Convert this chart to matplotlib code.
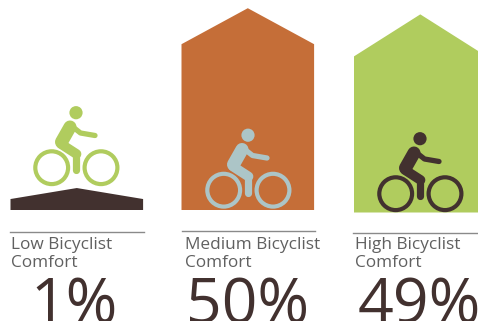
import matplotlib
matplotlib.use("Agg")
import matplotlib.pyplot as plt
from matplotlib.patches import Polygon, Circle

# Share of cyclists at each comfort level
labels = ["Low Bicyclist\nComfort", "Medium Bicyclist\nComfort", "High Bicyclist\nComfort"]
shares = [1, 50, 49]
share_text = ["1%", "50%", "49%"]

BROWN = "#42312F"
ORANGE = "#C56E38"
GREEN = "#B0CC5E"
PALE = "#ACC5C7"
GREY = "#606060"

house_colors = [BROWN, ORANGE, GREEN]
rider_colors = [GREEN, PALE, BROWN]
house_left = [10.5, 181.5, 354]
house_base = [210, 210, 212.5]
roof_rise = [11, 36, 42]
rider_dx = [0, 172, 344]
rider_dy = [0, 22.5, 26]
rule_y = [232, 231, 233]
rule_x = [(10, 144), (182, 315), (353, 478)]
label_x = [11, 185, 355]
label_y = [254, 254, 254]
pct_x = [30, 186, 358]

HALF_WIDTH = 66.3


def house_height(share):
    # Peak height in pixels for a given share
    return 18.3 + 3.67 * share


def draw_rider(ax, dx, dy, color):
    def px(x, y):
        return (x + dx, y + dy)

    ax.add_patch(Circle(px(76, 112.7), 6.6, fc=color, ec="none"))
    for cx in (51.7, 101):
        ax.add_patch(Circle(px(cx, 167.7), 16.4, fc="none", ec=color, lw=3.0))
    limbs = [
        ([(70, 127), (61.5, 142)], 9.4),
        ([(61, 144), (76.5, 154)], 7.0),
        ([(76.5, 154), (76.5, 170)], 5.2),
        ([(71, 125.5), (80.5, 133), (95, 135.5)], 3.8),
    ]
    for pts, lw in limbs:
        xs, ys = zip(*[px(*p) for p in pts])
        ax.plot(xs, ys, color=color, lw=lw, solid_capstyle="round",
                solid_joinstyle="round")


fig = plt.figure(figsize=(4.78, 3.21), dpi=100)
ax = fig.add_axes([0, 0, 1, 1])
ax.set_xlim(0, 478)
ax.set_ylim(321, 0)
ax.axis("off")

for i, share in enumerate(shares):
    left = house_left[i]
    base = house_base[i]
    peak = base - house_height(share)
    mid = left + HALF_WIDTH
    right = left + 2 * HALF_WIDTH
    shoulder = peak + roof_rise[i]
    ax.add_patch(Polygon([(left, base), (left, shoulder), (mid, peak),
                          (right, shoulder), (right, base)],
                         closed=True, fc=house_colors[i], ec="none"))
    draw_rider(ax, rider_dx[i], rider_dy[i], rider_colors[i])
    ax.plot(rule_x[i], [rule_y[i]] * 2, color="#8A8A8A", lw=1.0)
    ax.text(label_x[i], label_y[i], labels[i], color=GREY, fontsize=12.4,
            family="Open Sans", va="center", ha="left", linespacing=1.15)
    ax.text(pct_x[i], 323, share_text[i], color=BROWN, fontsize=45,
            family="Open Sans", va="baseline", ha="left")

fig.savefig("out.png", dpi=100)
